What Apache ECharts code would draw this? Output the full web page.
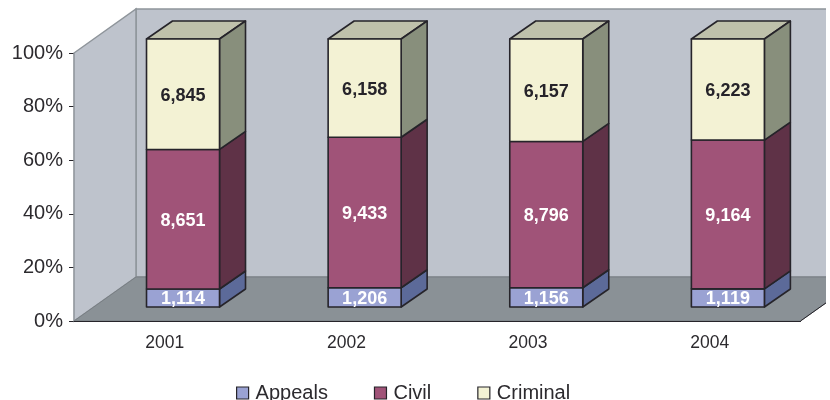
<!DOCTYPE html>
<html>
<head>
<meta charset="utf-8">
<style>
  html, body { margin: 0; background: #fff; }
  #chart { width: 826px; height: 400px; }
</style>
<script src="https://cdn.jsdelivr.net/npm/echarts@6/dist/echarts.min.js"></script>
</head>
<body>
<div id="chart"></div>
<script>
const categories = ['2001', '2002', '2003', '2004']
const appeals = [1114, 1206, 1156, 1119]
const civil = [8651, 9433, 8796, 9164]
const criminal = [6845, 6158, 6157, 6223]
const yTicks = [0, 20, 40, 60, 80, 100]

const fmt = (v) => v.toLocaleString('en-US')

// 3d look: depth of the plot box and of each bar, in pixels
const boxDepth = [62, -44]
const barDepth = [26, -18]
const barLift = [18.2, -14] // where the bar front stands inside the box
const barWidth = 73

const stackRows = (own, before) => own.map((v, i) => {
  const total = appeals[i] + civil[i] + criminal[i]
  const below = before.reduce((s, arr) => s + arr[i], 0)
  return [i, (below / total) * 100, ((below + v) / total) * 100, v]
})

const barSeries = (name, own, before, colors, labelColor) => ({
  name,
  type: 'custom',
  z: 3,
  itemStyle: { color: colors.front },
  data: stackRows(own, before),
  renderItem: (params, api) => {
    const bottom = api.coord([api.value(0), api.value(1)])
    const top = api.coord([api.value(0), api.value(2)])
    const x0 = bottom[0] + barLift[0] - barWidth / 2
    const x1 = x0 + barWidth
    const yb = bottom[1] + barLift[1]
    const yt = top[1] + barLift[1]
    const [dx, dy] = barDepth
    const line = { stroke: '#26242a', lineWidth: 1.6, lineJoin: 'round' }
    const children = [
      {
        type: 'polygon',
        shape: { points: [[x1, yb], [x1 + dx, yb + dy], [x1 + dx, yt + dy], [x1, yt]] },
        style: { fill: colors.side, ...line }
      },
      {
        type: 'rect',
        shape: { x: x0, y: yt, width: barWidth, height: yb - yt },
        style: { fill: colors.front, ...line }
      },
      {
        type: 'text',
        style: {
          text: fmt(api.value(3)),
          x: (x0 + x1) / 2,
          y: (yt + yb) / 2 + 1.5,
          align: 'center',
          verticalAlign: 'middle',
          fill: labelColor,
          font: 'bold 18px "Liberation Sans"'
        }
      }
    ]
    if (colors.top) {
      children.unshift({
        type: 'polygon',
        shape: { points: [[x0, yt], [x0 + dx, yt + dy], [x1 + dx, yt + dy], [x1, yt]] },
        style: { fill: colors.top, ...line }
      })
    }
    return { type: 'group', children }
  }
})

// walls and floor hang off the same axes as the bars
const boxSeries = {
  type: 'custom',
  silent: true,
  z: 1,
  legendHoverLink: false,
  data: [[0]],
  renderItem: (params, api) => {
    const s = params.coordSys
    const [dx, dy] = boxDepth
    const x0 = s.x
    const x1 = s.x + s.width
    const yt = s.y
    const yb = s.y + s.height
    const edge = { stroke: '#8f959b', lineWidth: 1.5 }
    return {
      type: 'group',
      children: [
        {
          type: 'polygon',
          shape: { points: [[x0 + dx, yt + dy], [x1 + dx, yt + dy], [x1 + dx, yb + dy], [x0 + dx, yb + dy]] },
          style: { fill: '#bec3cc', ...edge }
        },
        {
          type: 'polygon',
          shape: { points: [[x0, yt], [x0 + dx, yt + dy], [x0 + dx, yb + dy], [x0, yb]] },
          style: { fill: '#bec3cc', ...edge }
        },
        {
          type: 'polygon',
          shape: { points: [[x0, yb], [x0 + dx, yb + dy], [x1 + dx, yb + dy], [x1, yb]] },
          style: { fill: '#8a9196', stroke: '#787e83', lineWidth: 1 }
        },
        {
          type: 'line',
          shape: { x1: x1, y1: yb, x2: x1 + dx, y2: yb + dy },
          style: { stroke: '#26242a', lineWidth: 1 }
        }
      ]
    }
  }
}

const chart = echarts.init(document.getElementById('chart'))
chart.setOption({
  animation: false,
  textStyle: { fontFamily: 'Liberation Sans' },
  grid: { left: 74, top: 53, width: 726.5, height: 268 },
  xAxis: {
    type: 'category',
    data: categories,
    axisLine: { lineStyle: { color: '#26242a', width: 1.2 } },
    axisTick: { length: 5, lineStyle: { color: '#26242a' } },
    axisLabel: { color: '#2c2a2e', fontSize: 17.5, margin: 13 },
    z: 2
  },
  yAxis: {
    type: 'value',
    min: yTicks[0],
    max: yTicks[yTicks.length - 1],
    interval: 20,
    axisLine: { show: true, lineStyle: { color: '#26242a', width: 1.2 } },
    axisTick: { show: true, length: 5, lineStyle: { color: '#26242a' } },
    axisLabel: { color: '#2c2a2e', fontSize: 20, margin: 11, formatter: '{value}%' },
    splitLine: { show: false }
  },
  legend: {
    data: ['Appeals', 'Civil', 'Criminal'],
    left: 231,
    top: 378,
    itemWidth: 12,
    itemHeight: 12,
    itemGap: 46,
    icon: 'rect',
    itemStyle: { borderColor: '#26242a', borderWidth: 1.2 },
    textStyle: { color: '#2c2a2e', fontSize: 20, fontFamily: 'Liberation Sans', padding: [0, 0, 0, 2] }
  },
  series: [
    boxSeries,
    barSeries('Appeals', appeals, [], { front: '#9aa2d3', side: '#5c6a99' }, '#ffffff'),
    barSeries('Civil', civil, [appeals], { front: '#a05378', side: '#5f3247' }, '#ffffff'),
    barSeries('Criminal', criminal, [appeals, civil], { front: '#f3f2d4', side: '#888f7c', top: '#bfc1ab' }, '#26242a')
  ]
})
</script>
</body>
</html>
